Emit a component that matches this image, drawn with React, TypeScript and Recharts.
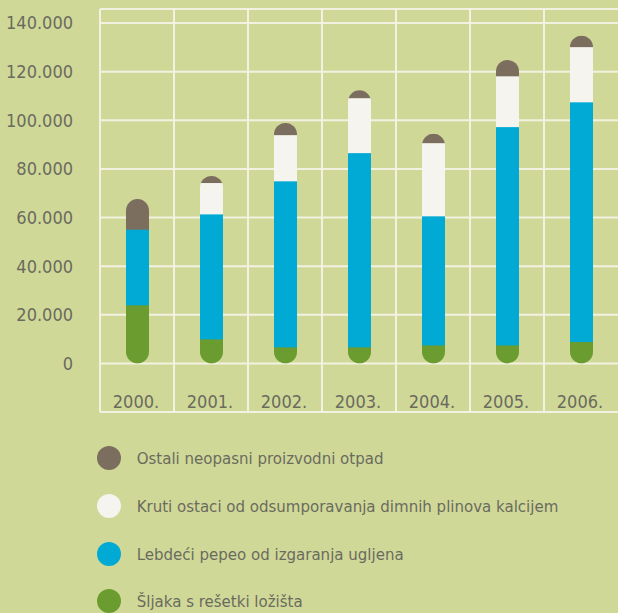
import { BarChart, Bar, XAxis, YAxis, CartesianGrid } from 'recharts';

const years = ['2000.', '2001.', '2002.', '2003.', '2004.', '2005.', '2006.'];

// tonnes per year
const sljaka = [24000, 10000, 6700, 6700, 7500, 7500, 8900];
const lebdeci = [31100, 51400, 68300, 79900, 53100, 89800, 98600];
const kruti = [0, 12900, 19000, 22600, 30100, 20900, 22700];
const ostali = [12500, 2800, 4900, 3100, 3700, 6600, 4600];

const yTicks = [0, 20000, 40000, 60000, 80000, 100000, 120000, 140000];

const series = [
  { key: 'sljaka', name: 'Šljaka s rešetki ložišta', color: '#6a9c2f' },
  { key: 'lebdeci', name: 'Lebdeći pepeo od izgaranja ugljena', color: '#00aad5' },
  { key: 'kruti', name: 'Kruti ostaci od odsumporavanja dimnih plinova kalcijem', color: '#f5f4ee' },
  { key: 'ostali', name: 'Ostali neopasni proizvodni otpad', color: '#7b6e5e' },
];

const data = years.map((year, i) => ({
  year,
  sljaka: sljaka[i],
  lebdeci: lebdeci[i],
  kruti: kruti[i],
  ostali: ostali[i],
}));

const BG = '#d0d897';
const GRID = '#f2f1e2';
const TEXT = '#6a6b5f';
const FONT = "'DejaVu Sans Condensed', 'DejaVu Sans', sans-serif";

const fmt = (v: number) => (v === 0 ? '0' : v.toLocaleString('de-DE'));

// each segment is clipped to a capsule spanning the whole stack
const makeShape = (idx: number) => (props: any) => {
  const { x, y, width, height, payload, index } = props;
  const key = series[idx].key;
  const v = payload[key];
  if (!v || !height || height <= 0) return null;
  const k = height / v;
  const below = series.slice(0, idx).reduce((s, sr) => s + payload[sr.key], 0);
  const total = series.reduce((s, sr) => s + payload[sr.key], 0);
  const bottom = y + height + below * k;
  const top = bottom - total * k;
  const id = `cap-${key}-${index}`;
  return (
    <g>
      <defs>
        <clipPath id={id}>
          <rect x={x} y={top} width={width} height={bottom - top} rx={width / 2} ry={width / 2} />
        </clipPath>
      </defs>
      <rect x={x} y={y - 0.3} width={width} height={height + 0.6} fill={series[idx].color} clipPath={`url(#${id})`} />
    </g>
  );
};

const XTick = (props: any) => {
  const { x, y, payload } = props;
  return (
    <text x={x} y={y} dy={-6} dx={-1} textAnchor="middle" fill={TEXT} fontSize={18} fontFamily={FONT}>
      {payload.value}
    </text>
  );
};

export default function App() {
  const legendItems = [...series].reverse();
  return (
    <div style={{ position: 'absolute', left: 0, top: 0, width: 618, height: 613, background: BG, overflow: 'hidden' }}>
      <BarChart width={618} height={430} data={data} margin={{ top: 9, right: 0, left: 0, bottom: 0 }} barSize={23}>
        <CartesianGrid
          stroke={GRID}
          strokeWidth={2}
          verticalCoordinatesGenerator={({ offset }: any) =>
            years.map((_, i) => offset.left + (i * offset.width) / years.length)
          }
        />
        <XAxis dataKey="year" height={18} axisLine={false} tickLine={false} tickSize={0} interval={0} tick={<XTick />} />
        <YAxis
          width={100}
          domain={[-20000, 145760]}
          ticks={yTicks}
          tickFormatter={fmt}
          axisLine={false}
          tickLine={false}
          tickSize={0}
          tickMargin={27}
          tick={{ fill: TEXT, fontSize: 18, fontFamily: FONT }}
        />
        {series.map((s, i) => (
          <Bar key={s.key} dataKey={s.key} stackId="a" fill={s.color} shape={makeShape(i)} isAnimationActive={false} />
        ))}
      </BarChart>
      <div style={{ position: 'absolute', left: 0, top: 434.5, width: 618 }}>
        {legendItems.map((s) => (
          <div key={s.key} style={{ height: 47.7, display: 'flex', alignItems: 'center', whiteSpace: 'nowrap' }}>
            <span
              style={{
                display: 'inline-block',
                width: 24,
                height: 24,
                borderRadius: 12,
                background: s.color,
                marginLeft: 96.7,
                marginRight: 16,
                flex: 'none',
              }}
            />
            <span style={{ color: TEXT, fontSize: 16.7, fontFamily: FONT }}>{s.name}</span>
          </div>
        ))}
      </div>
    </div>
  );
}
